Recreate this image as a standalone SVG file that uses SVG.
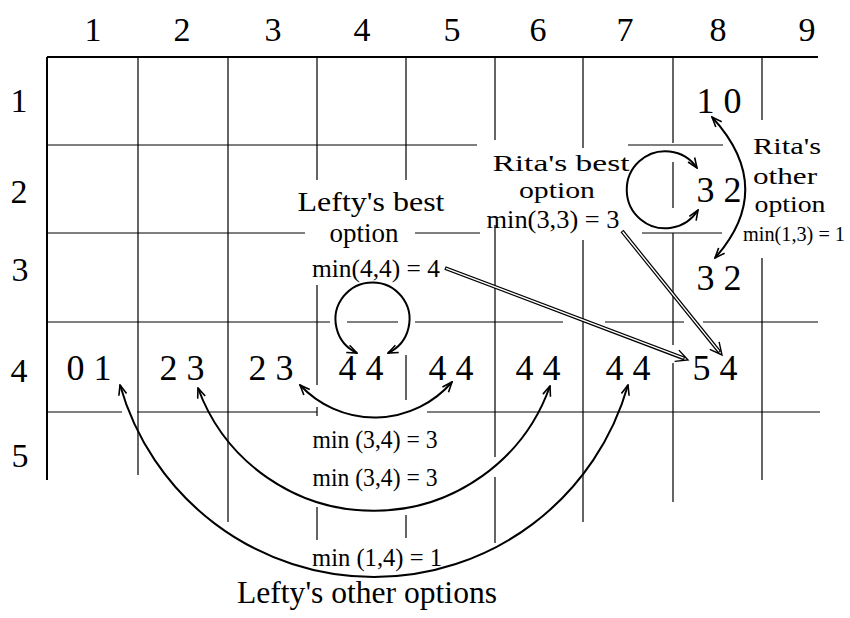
<svg xmlns="http://www.w3.org/2000/svg" width="850" height="618" viewBox="0 0 850 618">
<defs>
<style>
.g{stroke:#000;stroke-width:1.2;fill:none}
.gb{stroke:#000;stroke-width:2;fill:none}
.ax{font-family:"Liberation Serif",serif;font-size:34px;fill:#000;text-anchor:middle}
.v{font-family:"Liberation Serif",serif;font-size:36px;fill:#000;text-anchor:middle}
.t{font-family:"Liberation Serif",serif;font-size:27px;fill:#000;text-anchor:middle}
.r{font-family:"Liberation Serif",serif;font-size:24px;fill:#000;text-anchor:middle}
.m{font-family:"Liberation Serif",serif;font-size:25px;fill:#000;text-anchor:middle}
.c{stroke:#000;stroke-width:2;fill:none;marker-start:url(#ah);marker-end:url(#ah)}
.dl{stroke:#000;stroke-width:3.8;fill:none}
.dw{stroke:#fff;stroke-width:1.4;fill:none}
.ch{stroke:#000;stroke-width:1.4;fill:none}
</style>
<marker id="ah" viewBox="0 0 12 10" refX="11" refY="5" markerWidth="12" markerHeight="10" orient="auto-start-reverse" markerUnits="userSpaceOnUse">
<path d="M1,1 L11,5 L1,9" fill="none" stroke="#000" stroke-width="1.6"/>
</marker>
</defs>
<rect width="850" height="618" fill="#fff"/>
<g id="grid">
<path class="gb" d="M47 57H818M47 57V480"/>
<path class="g" d="M47 145H477M628 145H723M47 233H305M415 233H480M642 233H722M47 322H330M347 322H398M415 322H563M605 322H684M703 322H818M47 412H122M137 412H317M427 412H820"/>
<path class="g" d="M138 57V475M228 57V522M317 57V180M317 285V385M317 407V416M317 507V540M406 57V180M406 355V400M406 515V538M495 57V140M495 225V457M495 477V543M583 57V148M583 240V522M673 57V143M673 162V208M673 233V345M673 363V502M762 57V120M762 258V480"/>
</g>
<g id="axis-labels">
<text class="ax" x="93" y="41">1</text>
<text class="ax" x="182" y="41">2</text>
<text class="ax" x="273" y="41">3</text>
<text class="ax" x="362" y="41">4</text>
<text class="ax" x="452" y="41">5</text>
<text class="ax" x="538" y="41">6</text>
<text class="ax" x="625" y="41">7</text>
<text class="ax" x="718" y="41">8</text>
<text class="ax" x="807" y="41">9</text>
<text class="ax" x="19" y="112">1</text>
<text class="ax" x="19" y="203">2</text>
<text class="ax" x="20" y="281">3</text>
<text class="ax" x="19" y="382">4</text>
<text class="ax" x="20" y="467">5</text>
</g>
<g id="n41"><text class="v" x="89" y="380">0 1</text></g>
<g id="n42"><text class="v" x="182" y="380">2 3</text></g>
<g id="n43"><text class="v" x="271" y="380">2 3</text></g>
<g id="n44"><text class="v" x="361" y="380">4 4</text></g>
<g id="n45"><text class="v" x="451" y="380">4 4</text></g>
<g id="n46"><text class="v" x="538" y="380">4 4</text></g>
<g id="n47"><text class="v" x="628" y="380">4 4</text></g>
<g id="n48"><text class="v" x="715" y="380">5 4</text></g>
<g id="n18"><text class="v" x="719" y="113">1 0</text></g>
<g id="n28"><text class="v" x="719" y="202">3 2</text></g>
<g id="n38"><text class="v" x="719" y="290">3 2</text></g>
<g id="lefty-best">
<text class="t" x="371" y="211" textLength="147" lengthAdjust="spacingAndGlyphs">Lefty's best</text>
<text class="t" x="364" y="242">option</text>
<text class="m" x="376" y="277" textLength="128" lengthAdjust="spacingAndGlyphs">min(4,4) = 4</text>
</g>
<g id="rita-best">
<text class="r" x="561" y="171" textLength="137" lengthAdjust="spacingAndGlyphs">Rita's best</text>
<text class="r" x="557" y="198" textLength="76" lengthAdjust="spacingAndGlyphs">option</text>
<text class="m" x="553" y="228" textLength="133" lengthAdjust="spacingAndGlyphs">min(3,3) = 3</text>
</g>
<g id="rita-other">
<text class="r" x="787" y="154" textLength="68" lengthAdjust="spacingAndGlyphs">Rita's</text>
<text class="r" x="785" y="184" textLength="64" lengthAdjust="spacingAndGlyphs">other</text>
<text class="r" x="790" y="212" textLength="71" lengthAdjust="spacingAndGlyphs">option</text>
<text class="m" x="794" y="241" style="font-size:21px" textLength="102" lengthAdjust="spacingAndGlyphs">min(1,3) = 1</text>
</g>
<g id="lefty-other">
<text class="m" x="375" y="448" textLength="125" lengthAdjust="spacingAndGlyphs">min (3,4) = 3</text>
<text class="m" x="375" y="486" textLength="125" lengthAdjust="spacingAndGlyphs">min (3,4) = 3</text>
<text class="m" x="377" y="566" textLength="130" lengthAdjust="spacingAndGlyphs">min (1,4) = 1</text>
<text class="t" x="367" y="603" style="font-size:31px" textLength="260" lengthAdjust="spacingAndGlyphs">Lefty's other options</text>
</g>
<g id="connectors">
<path class="c" d="M357 353A37 37 0 1 1 388 353"/>
<path class="c" d="M697 168A38.5 38.5 0 1 0 698 210"/>
<path class="c" d="M712 117Q777 188 715 258"/>
<path class="c" d="M300 385A102 102 0 0 0 452 382"/>
<path class="c" d="M198 388A187 187 0 0 0 550 386"/>
<path class="c" d="M120 385A264 264 0 0 0 628 385"/>
<path class="dl" d="M445 268L684.5 358.6"/>
<path class="dw" d="M446 268.4L683.5 358.2"/>
<path class="ch" d="M674.7 361.4L688 360L678.9 350.1"/>
<path class="dl" d="M622 231L719.7 352.3"/>
<path class="dw" d="M622.6 231.8L719 351.4"/>
<path class="ch" d="M709.8 349.4L722 355L719.1 341.9"/>
</g>
</svg>
